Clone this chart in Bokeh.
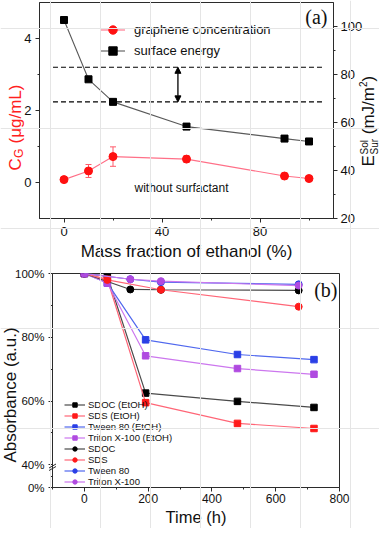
import math
from bokeh.plotting import figure
from bokeh.models import (Range1d, LinearAxis, FixedTicker, Label, Legend, LegendItem,
                          Whisker, TeeHead, Arrow, NormalHead, ColumnDataSource)
from bokeh.layouts import column
from bokeh.embed import file_html
from bokeh.resources import INLINE

# ---------------- data: panel (a) ----------------
ethanol = [0, 10, 20, 50, 90, 100]
graphene_conc = [0.08, 0.32, 0.72, 0.65, 0.18, 0.11]
graphene_err = [0.03, 0.18, 0.27, 0.09, 0.08, 0.06]
surface_energy = [102.7, 78.0, 68.6, 58.3, 53.3, 52.1]
window_levels = [83.0, 68.6]
window_x = [-4.5, 105.5]
arrow_x = 46.5

xa_ticks = [0, 40, 80]
xa_minor = [20, 60, 100]
ya_ticks = [0, 2, 4]
ya_minor = [1, 3]
yr_ticks = [20, 40, 60, 80, 100]
yr_minor = [30, 50, 70, 90]

# ---------------- data: panel (b) ----------------
time_etoh = [0, 72, 192, 480, 720]
sdoc_etoh = [100, 99.2, 62.5, 59.9, 58.0]
sds_etoh = [100, 98.2, 59.5, 53.0, 51.4]
tween_etoh = [100, 97.0, 79.2, 74.6, 73.0]
triton_etoh = [100, 97.0, 74.2, 70.2, 68.4]

time_sdoc = [0, 144, 240, 672]
sdoc = [100, 95.0, 94.9, 94.7]
time_sds = [0, 72, 240, 672]
sds = [100, 98.0, 94.9, 89.6]
time_tween = [0, 144, 240, 672]
tween = [100, 98.2, 97.3, 96.6]
time_triton = [0, 144, 240, 672]
triton = [100, 98.2, 97.6, 96.2]

xb_ticks = [0, 200, 400, 600, 800]
xb_minor = [-100, 100, 300, 500, 700]
yb_ticks = [32.9, 40, 60, 80, 100]          # 32.9 = broken-axis position of 0%
yb_tick_labels = ["0%", "40%", "60%", "80%", "100%"]
yb_minor = [36.4, 50, 70, 90]

FONT = "Liberation Sans"
SERIF = "Liberation Serif"
AXC = "#2b2b2b"
TXT = "#111111"


def no_align(p):
    if "frame_align" in p.properties():
        p.frame_align = False


def style_axes(p, size):
    for ax in p.axis:
        ax.major_tick_out = 4
        ax.major_tick_in = 0
        ax.minor_tick_out = 2
        ax.minor_tick_in = 0
        ax.axis_line_color = AXC
        ax.major_tick_line_color = AXC
        ax.minor_tick_line_color = AXC
        ax.major_label_text_font = FONT
        ax.major_label_text_font_size = size
        ax.major_label_text_color = TXT
        ax.axis_label_text_font = FONT
        ax.axis_label_text_font_style = "normal"
        ax.axis_label_text_color = TXT
    p.xgrid.visible = False
    p.ygrid.visible = False
    p.outline_line_color = AXC
    p.outline_line_alpha = 1.0
    p.background_fill_color = "white"
    p.border_fill_color = "white"
    no_align(p)


# ================= panel (a) =================
pa = figure(width=379, height=264, x_range=Range1d(-10, 110), y_range=Range1d(-1, 5),
            output_backend="svg", toolbar_location=None,
            min_border_left=39, min_border_right=46, min_border_top=2, min_border_bottom=46)
pa.extra_y_ranges = {"right": Range1d(20, 110)}
pa.add_layout(LinearAxis(y_range_name="right"), "right")
style_axes(pa, "13px")
pa.xaxis.ticker = FixedTicker(ticks=xa_ticks, minor_ticks=xa_minor)
pa.yaxis[0].ticker = FixedTicker(ticks=ya_ticks, minor_ticks=ya_minor)
pa.yaxis[1].ticker = FixedTicker(ticks=yr_ticks, minor_ticks=yr_minor)
pa.xaxis.major_label_standoff = 4
pa.yaxis[0].major_label_standoff = 4
pa.yaxis[1].major_label_standoff = 3
pa.xaxis.axis_label = "Mass fraction of ethanol (%)"
pa.xaxis.axis_label_text_font_size = "17px"
pa.xaxis.axis_label_standoff = 3

def pa_x(px):
    return -10 + (px - 47) * 120 / 294

def pa_y(py):
    return -1 + (218 - py) * 6 / 216

seg_src = ColumnDataSource(dict(x0=[window_x[0]] * 2, x1=[window_x[1]] * 2, y=window_levels))
pa.segment(x0="x0", y0="y", x1="x1", y1="y", source=seg_src, y_range_name="right",
           line_color="#000000", line_width=1.1, line_dash="5 3")
pa.add_layout(Arrow(x_start=arrow_x, y_start=window_levels[1], x_end=arrow_x,
                    y_end=window_levels[0], y_range_name="right", line_width=1.3,
                    start=NormalHead(size=6, fill_color="black", line_color="black"),
                    end=NormalHead(size=6, fill_color="black", line_color="black")))

sl = pa.line(ethanol, surface_energy, y_range_name="right", line_color="#5a5a5a", line_width=1.1)
ss = pa.scatter(ethanol, surface_energy, y_range_name="right", marker="square", size=7,
                fill_color="#000000", line_color="#000000")

src_g = ColumnDataSource(dict(x=ethanol, y=graphene_conc,
                              lo=[c - e for c, e in zip(graphene_conc, graphene_err)],
                              hi=[c + e for c, e in zip(graphene_conc, graphene_err)]))
pa.add_layout(Whisker(base="x", upper="hi", lower="lo", source=src_g, dimension="height",
                      line_color="#ff5a6a", line_width=1,
                      upper_head=TeeHead(size=6, line_color="#ff5a6a", line_width=1),
                      lower_head=TeeHead(size=6, line_color="#ff5a6a", line_width=1)))
gl = pa.line("x", "y", source=src_g, line_color="#ff7088", line_width=1.1)
gs = pa.scatter("x", "y", source=src_g, marker="circle", size=8,
                fill_color="#ff1010", line_color="#ff1010")

leg_a = Legend(items=[LegendItem(label="graphene concentration", renderers=[gl, gs]),
                      LegendItem(label="surface energy", renderers=[sl, ss])],
               location=(61, 157), orientation="vertical", padding=0, margin=0, spacing=0,
               glyph_width=25, glyph_height=21, label_height=21, label_standoff=9,
               label_text_font=FONT, label_text_font_size="13px", label_text_color=TXT,
               border_line_color=None, background_fill_alpha=0)
pa.add_layout(leg_a)

pa.add_layout(Label(x=pa_x(335), y=pa_y(16.5), text="(a)", text_align="right",
                    text_baseline="middle", text_font=SERIF, text_font_size="20px",
                    text_color=TXT))
pa.add_layout(Label(x=pa_x(142), y=pa_y(187), text="without surfactant", text_align="left",
                    text_baseline="middle", text_font=FONT, text_font_size="12px",
                    text_color=TXT))

# ================= panel (b) =================
pb = figure(width=379, height=264, x_range=Range1d(-100, 800), y_range=Range1d(32.9, 100),
            output_backend="svg", toolbar_location=None,
            min_border_left=52, min_border_right=40, min_border_top=9, min_border_bottom=41)
style_axes(pb, "12px")
pb.xaxis.ticker = FixedTicker(ticks=xb_ticks, minor_ticks=xb_minor)
pb.yaxis.ticker = FixedTicker(ticks=yb_ticks, minor_ticks=yb_minor)
pb.yaxis.major_label_overrides = {v: s for v, s in zip(yb_ticks, yb_tick_labels)}
pb.yaxis.major_label_text_font_size = "11.5px"
pb.yaxis.major_label_standoff = 4
pb.xaxis.major_label_standoff = 2
pb.xaxis.axis_label = "Time (h)"
pb.xaxis.axis_label_text_font_size = "16.5px"
pb.xaxis.axis_label_standoff = 2

def pb_x(px):
    return -100 + (px - 60) * 900 / 287

def pb_y(py):
    return 32.9 + (487 - py) * 67.1 / 214

BLACK_M, BLACK_L = "#000000", "#4a4a4a"
RED_M, RED_L = "#ff1a1a", "#ff6677"
BLUE_M, BLUE_L = "#2a3fe6", "#5068ee"
PURP_M, PURP_L = "#b04ae0", "#cc77ee"

series = [
    ("SDOC (EtOH)", time_etoh, sdoc_etoh, "square", BLACK_M, BLACK_L),
    ("SDS (EtOH)", time_etoh, sds_etoh, "square", RED_M, RED_L),
    ("Tween 80 (EtOH)", time_etoh, tween_etoh, "square", BLUE_M, BLUE_L),
    ("Triton X-100 (EtOH)", time_etoh, triton_etoh, "square", PURP_M, PURP_L),
    ("SDOC", time_sdoc, sdoc, "circle", BLACK_M, BLACK_L),
    ("SDS", time_sds, sds, "circle", RED_M, RED_L),
    ("Tween 80", time_tween, tween, "circle", BLUE_M, BLUE_L),
    ("Triton X-100", time_triton, triton, "circle", PURP_M, PURP_L),
]
items_b = []
for name, xs, ys, mk, mc, lc in series:
    r1 = pb.line(xs, ys, line_color=lc, line_width=1.2)
    r2 = pb.scatter(xs, ys, marker=mk, size=6.5 if mk == "square" else 7,
                    fill_color=mc, line_color=mc)
    items_b.append(LegendItem(label=name, renderers=[r1, r2]))

leg_b = Legend(items=items_b, location=(12, 0), orientation="vertical", padding=0, margin=0,
               spacing=0, glyph_width=21, glyph_height=11, label_height=11, label_standoff=3,
               label_text_font=FONT, label_text_font_size="9.5px", label_text_color=TXT,
               border_line_color=None, background_fill_alpha=0)
pb.add_layout(leg_b)

pb.add_layout(Label(x=pb_x(345), y=pb_y(289), text="(b)", text_align="right",
                    text_baseline="middle", text_font=SERIF, text_font_size="20px",
                    text_color=TXT))

# ============ transparent overlay for texts outside the frames ============
OW, OH = 379, 528
ov = figure(width=OW, height=OH, x_range=Range1d(0, OW), y_range=Range1d(0, OH),
            output_backend="svg", toolbar_location=None, min_border=0,
            min_border_left=0, min_border_right=0, min_border_top=0, min_border_bottom=0,
            x_axis_location=None, y_axis_location=None)
ov.margin = (-OH, 0, 0, 0)
ov.background_fill_color = None
ov.border_fill_color = None
ov.outline_line_color = None
no_align(ov)

def ox(sx):
    return sx - 8

def oy(sy):
    return OH - sy

def vlabel(text, sx, sy, size, color, align="left"):
    ov.add_layout(Label(x=ox(sx), y=oy(sy), text=text, angle=math.pi / 2, text_align=align,
                        text_baseline="alphabetic", text_font=FONT, text_font_size=size,
                        text_color=color))

RED = "#ff2020"
vlabel("C", 23, 170, "17px", RED)
vlabel("G", 26.5, 157.5, "12px", RED)
vlabel("(\u03bcg/mL)", 23, 143, "17px", RED)

vlabel("E", 376, 166, "17px", TXT)
vlabel("Sol", 372, 154, "10px", TXT)
vlabel("Sur", 382, 154, "10px", TXT)
vlabel("(mJ/m", 376, 133.7, "17px", TXT)
vlabel("2", 370, 86.5, "10px", TXT)
vlabel(")", 376, 80.9, "17px", TXT)

vlabel("Absorbance (a.u.)", 17.5, 394.5, "17px", TXT, align="center")

brk = ColumnDataSource(dict(x0=[ox(56.5), ox(56.5)], y0=[oy(467.5), oy(470)],
                            x1=[ox(63.5), ox(63.5)], y1=[oy(463.5), oy(466)]))
ov.segment(x0="x0", y0="y0", x1="x1", y1="y1", source=brk, line_color=AXC, line_width=1)

layout = column(pa, pb, ov)
open("out.html", "w").write(file_html(layout, INLINE))
